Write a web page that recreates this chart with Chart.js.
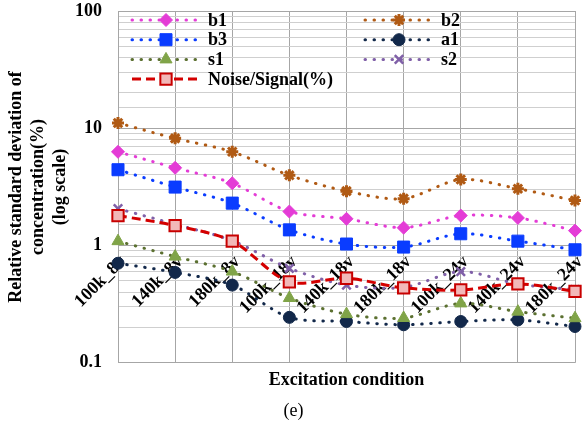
<!DOCTYPE html>
<html>
<head>
<meta charset="utf-8">
<script src="https://cdn.jsdelivr.net/npm/chart.js@4"></script>
<style>
    html, body { margin: 0; padding: 0; background: #fff; }
    #wrap { width: 585px; height: 426px; }
</style>
</head>
<body>
<div id="wrap"><canvas id="rsdChart"></canvas></div>
<script>
const conditions = ['100k_8v', '140k_8v', '180k_8v', '100k_18v', '140k_18v', '180k_18v', '100k_24v', '140k_24v', '180k_24v'];

const b1 = [6.3, 4.6, 3.4, 1.95, 1.69, 1.42, 1.8, 1.72, 1.34];
const b2 = [11.1, 8.2, 6.3, 3.97, 2.91, 2.51, 3.66, 3.05, 2.42];
const b3 = [4.43, 3.15, 2.3, 1.36, 1.03, 0.97, 1.26, 1.09, 0.92];
const a1 = [0.706, 0.59, 0.46, 0.244, 0.225, 0.211, 0.225, 0.232, 0.204];
const s1 = [1.09, 0.805, 0.6, 0.357, 0.26, 0.241, 0.321, 0.273, 0.24];
const s2 = [2.06, 1.52, 1.1, 0.64, 0.46, 0.44, 0.6, 0.47, 0.42];
const noiseSignal = [1.8, 1.48, 1.09, 0.49, 0.526, 0.435, 0.418, 0.471, 0.407];

const yTickLabels = [0.1, 1, 10, 100];

const serif = "'Liberation Serif', 'Times New Roman', serif";

function dotted(label, data, color, pointStyle, radius, pointColor, pointBorder) {
    return {
        label: label,
        data: data,
        borderColor: color,
        backgroundColor: pointColor || color,
        pointBackgroundColor: pointColor || color,
        pointBorderColor: pointColor || color,
        pointBorderWidth: pointBorder || 1,
        borderWidth: 3,
        borderDash: [0.5, 8.5],
        borderCapStyle: 'round',
        pointStyle: pointStyle,
        pointRadius: radius,
        tension: 0.3
    };
}

const datasets = [
    dotted('b1', b1, '#e43cd6', 'rectRot', 6.5),
    dotted('b2', b2, '#b05a14', 'star', 6, '#b05a14', 3),
    dotted('b3', b3, '#0a3cff', 'rect', 8.5),
    dotted('a1', a1, '#12284a', 'circle', 6),
    dotted('s1', s1, '#5b7030', 'triangle', 7, '#80a448'),
    dotted('s2', s2, '#8060a8', 'crossRot', 6, '#8060a8', 2.5),
    {
        label: 'Noise/Signal(%)',
        data: noiseSignal,
        borderColor: '#d40000',
        borderWidth: 3,
        borderDash: [9, 5],
        pointStyle: 'rect',
        pointRadius: 8,
        pointBorderWidth: 2,
        pointBorderColor: '#c80000',
        pointBackgroundColor: '#f2b8b8',
        backgroundColor: '#f2b8b8',
        tension: 0.3
    }
];
// later series on top, like the original
datasets.forEach((ds, i) => { ds.order = datasets.length - i; });

// legend drawn inside the plot, two columns
const insideLegend = {
    id: 'insideLegend',
    afterDraw(chart) {
        const { ctx, chartArea } = chart;
        ctx.save();
        chart.data.datasets.forEach((ds, i) => {
            const col = i % 2, row = Math.floor(i / 2);
            const x0 = chartArea.left + 14 + col * 233;
            const y = chartArea.top + 9 + row * 19.7;
            ctx.strokeStyle = ds.borderColor;
            ctx.lineWidth = ds.borderWidth;
            ctx.lineCap = ds.borderCapStyle || 'butt';
            ctx.setLineDash(ds.borderDash || []);
            ctx.beginPath();
            ctx.moveTo(x0, y);
            ctx.lineTo(x0 + 68, y);
            ctx.stroke();
            ctx.setLineDash([]);
            ctx.lineCap = 'butt';
            ctx.fillStyle = ds.pointBackgroundColor;
            ctx.strokeStyle = ds.pointBorderColor;
            ctx.lineWidth = ds.pointBorderWidth;
            Chart.helpers.drawPoint(ctx, {
                pointStyle: ds.pointStyle, radius: ds.pointRadius, rotation: 0, borderWidth: ds.pointBorderWidth
            }, x0 + 34, y);
            ctx.fillStyle = '#000';
            ctx.font = 'bold 18px ' + serif;
            ctx.textBaseline = 'middle';
            ctx.textAlign = 'left';
            ctx.fillText(ds.label, x0 + 76, y + 1);
        });
        ctx.restore();
    }
};

function isDecade(v) {
    return yTickLabels.some(t => Math.abs(t - v) < t * 1e-6);
}

new Chart(document.getElementById('rsdChart'), {
    type: 'line',
    data: { labels: conditions, datasets: datasets },
    plugins: [insideLegend],
    options: {
        responsive: true,
        maintainAspectRatio: false,
        animation: false,
        layout: { padding: { left: 2, top: 0, right: 0, bottom: 0 } },
        plugins: {
            legend: { display: false },
            tooltip: { enabled: false },
            title: {
                display: true,
                position: 'bottom',
                weight: 1000,
                fullSize: false,
                text: 'Excitation condition',
                color: '#000',
                font: { family: serif, size: 18, weight: 'bold' },
                padding: { top: 7, bottom: 4 }
            },
            subtitle: {
                display: true,
                position: 'bottom',
                weight: 3000,
                text: '(e)',
                color: '#000',
                font: { family: serif, size: 18, weight: 'normal' },
                padding: { top: 5, bottom: 4 }
            }
        },
        scales: {
            x: {
                type: 'category',
                position: { y: 1 },
                offset: false,
                afterFit: s => { s.paddingLeft = 0; s.paddingRight = 0; },
                grid: { color: '#a6a6a6', lineWidth: 1, drawTicks: false },
                border: { display: false },
                ticks: {
                    autoSkip: false,
                    minRotation: 45,
                    maxRotation: 45,
                    padding: 6,
                    labelOffset: 5,
                    color: '#000',
                    font: { family: serif, size: 18, weight: 'bold' }
                }
            },
            y: {
                type: 'logarithmic',
                min: 0.1,
                max: 100,
                afterFit: s => { s.width = 116; s.paddingTop = 11; s.paddingBottom = 10; },
                grid: {
                    drawTicks: false,
                    color: c => isDecade(c.tick.value) ? '#a6a6a6' : '#cfcfcf'
                },
                border: { color: '#a6a6a6' },
                ticks: {
                    autoSkip: false,
                    padding: 16,
                    color: '#000',
                    font: { family: serif, size: 18, weight: 'bold' },
                    callback: v => isDecade(v) ? String(v) : ''
                },
                title: {
                    display: true,
                    text: ['Relative standard deviation of', 'concentration(%)', '(log scale)'],
                    color: '#000',
                    font: { family: serif, size: 18, weight: 'bold', lineHeight: 1.2 },
                    padding: 4
                }
            }
        }
    }
});
</script>
</body>
</html>
